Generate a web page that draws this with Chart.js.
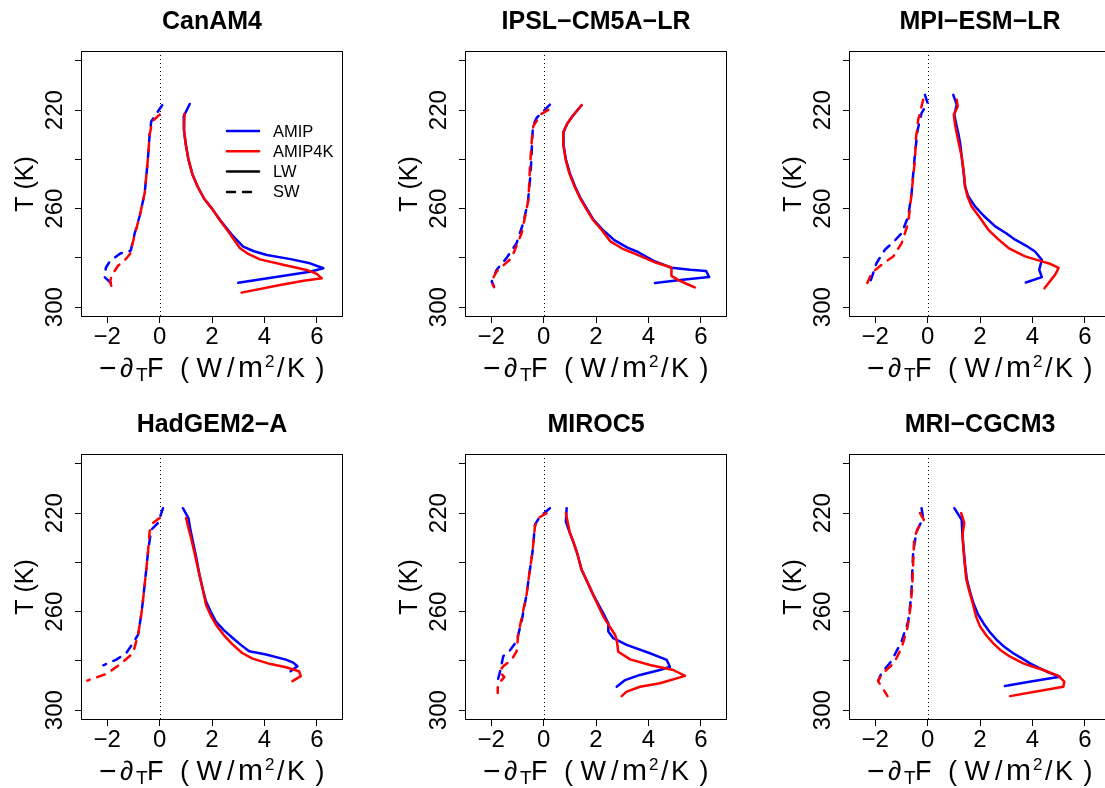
<!DOCTYPE html>
<html><head><meta charset="utf-8">
<script src="https://cdn.jsdelivr.net/npm/chart.js@4/dist/chart.umd.min.js"></script>
<style>
html,body{margin:0;padding:0;background:#fff;overflow:hidden;width:1105px;height:788px;}
#wrap{position:relative;width:1105px;height:788px;overflow:hidden;background:#fff;}
canvas{position:absolute;}
</style></head><body><div id="wrap"></div>
<script>
// ---------- data: [x (W/m2/K), T (K)] ----------
const MODELS = ['CanAM4','IPSL\u2212CM5A\u2212LR','MPI\u2212ESM\u2212LR','HadGEM2\u2212A','MIROC5','MRI\u2212CGCM3'];
const X_TICKS = [-2,0,2,4,6];
const Y_TICKS = [200,220,240,260,280,300];
const Y_LABELED = [220,260,300];
const LEGEND_LABELS = ['AMIP','AMIP4K','LW','SW'];

const CanAM4_LW_AMIP = [[1.15,217.5],[0.92,222.5],[0.93,228],[1.0,234],[1.1,240],[1.25,246],[1.45,251],[1.7,256],[2.0,260],[2.31,264.6],[2.75,270.5],[3.19,275.4],[3.6,277.3],[4.09,278.8],[5.0,280.5],[5.74,282.2],[6.25,284.2],[5.74,285.6],[4.5,287.7],[3.0,290.1]];
const CanAM4_LW_AMIP4K = [[0.95,221.5],[0.93,228],[1.0,234],[1.1,240],[1.25,246],[1.45,251],[1.7,256],[2.0,260],[2.28,264.4],[2.6,269],[3.07,276.1],[3.4,278.5],[3.83,280.6],[4.8,283],[5.61,284.9],[6.0,286.5],[6.19,288.3],[5.5,289.3],[4.6,291],[3.13,294.1]];
const CanAM4_SW_AMIP = [[0.1,218],[-0.32,224.6],[-0.38,230],[-0.44,238.8],[-0.5,246],[-0.57,253.7],[-0.76,263],[-0.95,270],[-1.1,277],[-1.5,278.2],[-1.9,281.4],[-2.05,284],[-2.1,287.8],[-1.85,290.2]];
const CanAM4_SW_AMIP4K = [[0.0,221.8],[-0.28,224.6],[-0.38,230],[-0.44,238.8],[-0.5,246],[-0.57,253.7],[-0.76,263],[-0.94,270.2],[-1.13,278.4],[-1.39,281.7],[-1.58,283.1],[-1.83,287.1],[-1.89,289.8],[-1.77,293.7]];

const IPSL_LW_AMIP = [[1.45,218],[1.1,222.5],[0.9,225.5],[0.76,229],[0.76,234],[0.85,240],[1.0,245.6],[1.2,251],[1.4,255.5],[1.65,260],[1.9,264.5],[2.25,268.5],[2.7,272.8],[3.2,275.8],[3.6,277.6],[4.2,281.2],[4.88,284],[5.6,284.8],[6.2,285.3],[6.32,287.8],[5.3,288.9],[4.25,290.2]];
const IPSL_LW_AMIP4K = [[1.45,218],[1.1,222.5],[0.9,225.5],[0.75,229],[0.75,234],[0.84,240],[0.98,245.6],[1.18,251],[1.38,255.5],[1.62,260],[1.88,264.5],[2.2,268.5],[2.55,273.3],[3.0,276.2],[3.45,278.2],[4.3,282],[4.88,283.9],[4.88,287.3],[5.13,288.9],[5.45,290.5],[5.77,292]];
const IPSL_SW_AMIP = [[0.24,217.8],[-0.27,223.2],[-0.4,226.2],[-0.44,232],[-0.46,238.8],[-0.5,246],[-0.55,252],[-0.6,257.5],[-0.78,265.9],[-1.03,274],[-1.41,280],[-1.79,284.8],[-1.98,289.6],[-1.89,291.6]];
const IPSL_SW_AMIP4K = [[0.18,219.9],[-0.08,221.5],[-0.39,226.4],[-0.45,232],[-0.52,242.9],[-0.55,250],[-0.58,256.4],[-0.7,263],[-0.84,270],[-1.22,280],[-1.79,285.5],[-2.0,289.6],[-1.89,291.9]];

const MPI_LW_AMIP = [[0.98,213.8],[1.11,217.8],[1.02,221.9],[1.1,226],[1.17,229.3],[1.25,234],[1.3,238.8],[1.37,245],[1.43,251],[1.55,255],[1.81,259.1],[2.15,263],[2.58,267.2],[3.0,270],[3.34,272.6],[3.75,275],[4.1,277.4],[4.36,280.8],[4.26,284.8],[4.36,287.8],[3.75,290]];
const MPI_LW_AMIP4K = [[1.11,215.8],[1.15,218.5],[1.0,221.9],[1.05,226],[1.11,229.3],[1.2,234],[1.3,238.8],[1.38,245],[1.43,251],[1.52,255],[1.68,259.1],[1.95,263],[2.32,268.6],[2.7,272.5],[3.09,276],[3.72,279.4],[4.36,281.4],[4.7,282.5],[5.0,284.1],[4.87,286.8],[4.46,292.3]];
const MPI_SW_AMIP = [[-0.1,213.8],[0.0,217.2],[-0.23,221.2],[-0.38,228],[-0.48,237.5],[-0.55,246],[-0.61,253.7],[-0.74,263.2],[-0.99,270],[-1.3,273.5],[-1.63,276.7],[-1.95,282.1],[-2.14,288.2],[-2.21,290.2]];
const MPI_SW_AMIP4K = [[-0.17,215.8],[-0.26,219.9],[-0.36,223.9],[-0.45,232],[-0.48,240.2],[-0.55,247],[-0.61,253.7],[-0.74,265.9],[-0.99,274],[-1.31,279.4],[-1.76,282.8],[-2.14,286.2],[-2.3,290.2]];

const HadGEM_LW_AMIP = [[0.89,218],[1.1,222],[1.18,227],[1.27,231.5],[1.4,238],[1.52,245],[1.65,251],[1.77,255.8],[1.95,260],[2.15,264],[2.45,267.5],[2.79,270.7],[3.1,273.5],[3.42,276.1],[4.06,277.4],[4.82,279.5],[5.1,280.7],[5.26,282.2],[5.0,284.2]];
const HadGEM_LW_AMIP4K = [[1.01,222],[1.1,226],[1.2,230],[1.35,237],[1.52,245],[1.65,251],[1.77,257.2],[1.95,261.5],[2.15,265.3],[2.45,269.5],[2.79,273.4],[3.15,276.8],[3.55,279.1],[4.2,281.2],[4.82,282.6],[5.32,284.2],[5.39,286.2],[5.07,288.2]];
const HadGEM_SW_AMIP = [[0.13,218],[-0.06,224],[-0.32,226.8],[-0.44,235.5],[-0.5,242],[-0.57,249],[-0.64,256],[-0.7,261.2],[-0.82,269.3],[-1.01,272.7],[-1.27,276.8],[-1.65,279.5],[-2.15,281.8]];
const HadGEM_SW_AMIP4K = [[0.0,222],[-0.25,224],[-0.38,227.4],[-0.44,235.5],[-0.5,242],[-0.57,249],[-0.64,256],[-0.7,261.2],[-0.82,269.3],[-1.01,276.8],[-1.52,281.5],[-2.03,285.3],[-2.76,288]];

const MIROC_LW_AMIP = [[0.88,218],[0.85,223.4],[1.0,228],[1.13,231.5],[1.3,237],[1.45,243],[1.65,247.5],[1.89,253.1],[2.28,260.7],[2.47,264.7],[2.47,268.1],[2.66,270.8],[3.17,273.5],[4.06,276.9],[4.7,279.6],[4.82,282.4],[4.44,283.7],[3.68,285.7],[3.11,287.8],[2.79,290.5]];
const MIROC_LW_AMIP4K = [[0.85,220],[1.0,228],[1.13,231.5],[1.3,237],[1.45,243],[1.65,247.5],[1.89,253.1],[2.28,262],[2.73,269.5],[2.79,271.5],[2.85,276.3],[3.3,279.4],[4.06,281.7],[4.95,283.7],[5.4,286.1],[4.44,289.1],[3.68,290.5],[3.17,292.5],[2.98,294.3]];
const MIROC_SW_AMIP = [[0.24,218],[-0.14,221.4],[-0.33,224.7],[-0.42,235.5],[-0.55,245],[-0.65,253.1],[-0.84,263.9],[-1.03,272],[-1.31,276.1],[-1.54,278.1],[-1.66,284.2],[-1.79,289.6]];
const MIROC_SW_AMIP4K = [[0.11,220],[-0.2,222],[-0.33,225.4],[-0.42,235.5],[-0.55,245],[-0.65,253.1],[-0.97,269.3],[-1.03,276.1],[-1.22,279.5],[-1.54,282.2],[-1.69,284.2],[-1.5,286.6],[-1.75,289.6],[-1.75,293]];

const MRI_LW_AMIP = [[1.02,218],[1.3,222.7],[1.33,228.8],[1.38,235],[1.43,241],[1.5,247],[1.62,252],[1.75,256.6],[1.92,261],[2.13,264.7],[2.35,268],[2.64,271.5],[2.95,274.5],[3.27,276.9],[3.6,279],[3.91,281],[4.25,282.8],[4.55,284.4],[5.05,286.4],[4.0,288.3],[2.95,290.2]];
const MRI_LW_AMIP4K = [[1.28,220],[1.4,224],[1.33,228.8],[1.37,235],[1.42,241],[1.48,247],[1.6,252],[1.72,256.6],[1.85,262],[2.0,266],[2.25,269.8],[2.51,272.9],[2.8,275.8],[3.15,278.3],[3.65,281],[4.0,282.3],[4.42,283.7],[4.99,286.1],[5.22,288.4],[5.18,290.5],[4.2,292.3],[3.15,294.3]];
const MRI_SW_AMIP = [[-0.23,218],[-0.17,222],[-0.42,227.4],[-0.55,235.5],[-0.58,243],[-0.61,250.4],[-0.66,257],[-0.74,263.9],[-0.99,272],[-1.38,280.1],[-1.76,284.9],[-1.89,288.2]];
const MRI_SW_AMIP4K = [[-0.29,220],[-0.14,222.7],[-0.36,226],[-0.51,230],[-0.55,240],[-0.59,250.4],[-0.65,258],[-0.77,266.6],[-0.99,274.7],[-1.28,280.8],[-1.76,285.5],[-1.89,288.2],[-1.53,294.3]];

const PANELS = [
  {title:MODELS[0], lwA:CanAM4_LW_AMIP, lwK:CanAM4_LW_AMIP4K, swA:CanAM4_SW_AMIP, swK:CanAM4_SW_AMIP4K, legend:true},
  {title:MODELS[1], lwA:IPSL_LW_AMIP, lwK:IPSL_LW_AMIP4K, swA:IPSL_SW_AMIP, swK:IPSL_SW_AMIP4K},
  {title:MODELS[2], lwA:MPI_LW_AMIP, lwK:MPI_LW_AMIP4K, swA:MPI_SW_AMIP, swK:MPI_SW_AMIP4K},
  {title:MODELS[3], lwA:HadGEM_LW_AMIP, lwK:HadGEM_LW_AMIP4K, swA:HadGEM_SW_AMIP, swK:HadGEM_SW_AMIP4K},
  {title:MODELS[4], lwA:MIROC_LW_AMIP, lwK:MIROC_LW_AMIP4K, swA:MIROC_SW_AMIP, swK:MIROC_SW_AMIP4K},
  {title:MODELS[5], lwA:MRI_LW_AMIP, lwK:MRI_LW_AMIP4K, swA:MRI_SW_AMIP, swK:MRI_SW_AMIP4K}
];

// ---------- style ----------
const FONT = '"Liberation Sans", Arial, Helvetica, sans-serif';
const BLUE = '#0000FF', RED = '#FF0000';
const CELL_W = 384, CELL_H = 403;
const DASH = [8,8];
Chart.defaults.font.family = FONT;
Chart.defaults.color = '#000';

function ds(arr, color, dashed){
  return {data: arr.map(p => ({x:p[0], y:p[1]})), borderColor: color, backgroundColor: color,
    borderWidth: 2.5, borderDash: dashed ? DASH : [], borderCapStyle: 'round', borderJoinStyle: 'round',
    pointRadius: 0, pointHoverRadius: 0, showLine: true, tension: 0, fill: false};
}

// x-axis title pieces: text, font, vertical offset, ink-centre x relative to panel centre
function drawXTitle(ctx, cx, baseY){
  const main = '27px ' + FONT, wide = '30px ' + FONT, sub = '19px ' + FONT, sup = '17px ' + FONT;
  const pieces = [
    ['\u2212', wide, 1, -104], ['\u2202', main, 0, -85.5], ['T', sub, 4, -70], ['F', main, 0, -56],
    ['(', main, 0, -27], ['W', main, 0, -2.5], ['/', main, 0, 19], ['m', wide, 0, 39],
    ['2', sup, -10, 57.5], ['/', main, 0, 69], ['K', main, 0, 85], [')', main, 0, 107.5]
  ];
  ctx.textAlign = 'left'; ctx.textBaseline = 'alphabetic'; ctx.fillStyle = '#000';
  pieces.forEach(p => {
    ctx.font = p[1];
    const m = ctx.measureText(p[0]);
    const abl = isFinite(m.actualBoundingBoxLeft) ? m.actualBoundingBoxLeft : 0;
    const abr = isFinite(m.actualBoundingBoxRight) ? m.actualBoundingBoxRight : m.width;
    const inkW = abl + abr;
    ctx.fillText(p[0], cx + p[3] - inkW/2 + abl, baseY + p[2]);
  });
}

const decor = {
  id: 'decor',
  beforeDatasetsDraw(chart){
    const ctx = chart.ctx, a = chart.chartArea, xs = chart.scales.x;
    const x0 = Math.round(xs.getPixelForValue(0)) + 0.5;
    ctx.save();
    ctx.strokeStyle = '#000'; ctx.lineWidth = 1; ctx.setLineDash([1,3]);
    ctx.beginPath(); ctx.moveTo(x0, a.top); ctx.lineTo(x0, a.bottom); ctx.stroke();
    ctx.restore();
  },
  afterDraw(chart){
    const ctx = chart.ctx, a = chart.chartArea, ys = chart.scales.y;
    const opts = chart.options.plugins.decor;
    const cx = (a.left + a.right)/2;
    ctx.save();
    ctx.strokeStyle = '#000'; ctx.lineWidth = 1; ctx.setLineDash([]);
    ctx.strokeRect(a.left + 0.5, a.top + 0.5, a.right - a.left - 1, a.bottom - a.top - 1);
    ctx.fillStyle = '#000'; ctx.font = '24px ' + FONT; ctx.textAlign = 'center'; ctx.textBaseline = 'middle';
    Y_LABELED.forEach(v => {
      const py = ys.getPixelForValue(v);
      ctx.save(); ctx.translate(a.left - 27, py); ctx.rotate(-Math.PI/2); ctx.fillText(String(v), 0, 1); ctx.restore();
    });
    ctx.font = '25px ' + FONT;
    ctx.save(); ctx.translate(25, (a.top + a.bottom)/2); ctx.rotate(-Math.PI/2); ctx.fillText('T (K)', 0, 1); ctx.restore();
    ctx.font = 'bold 25px ' + FONT; ctx.textBaseline = 'middle';
    ctx.fillText(opts.title, cx, 22);
    drawXTitle(ctx, cx, a.bottom + 60);
    if (opts.legend){
      const rows = [[BLUE, []], [RED, []], ['#000', []], ['#000', DASH]];
      const x1 = 227, x2 = 259, tx = 273, y0 = 131, dy = 20.3;
      ctx.font = '16.5px ' + FONT; ctx.textAlign = 'left'; ctx.textBaseline = 'middle';
      rows.forEach((r, i) => {
        const y = y0 + i*dy;
        ctx.strokeStyle = r[0]; ctx.lineWidth = 2.5; ctx.lineCap = 'round'; ctx.setLineDash(r[1]);
        ctx.beginPath(); ctx.moveTo(x1, y); ctx.lineTo(x2, y); ctx.stroke();
        ctx.fillStyle = '#000'; ctx.fillText(LEGEND_LABELS[i], tx, y + 1);
      });
    }
    ctx.restore();
  }
};

const wrap = document.getElementById('wrap');
PANELS.forEach((p, i) => {
  const col = i % 3, row = Math.floor(i / 3);
  const cv = document.createElement('canvas');
  cv.width = CELL_W; cv.height = CELL_H;
  cv.style.width = CELL_W + 'px'; cv.style.height = CELL_H + 'px';
  cv.style.left = (col * CELL_W) + 'px'; cv.style.top = (row * CELL_H) + 'px';
  wrap.appendChild(cv);
  new Chart(cv, {
    type: 'scatter',
    data: { datasets: [ ds(p.lwK, RED, false), ds(p.swK, RED, true), ds(p.lwA, BLUE, false), ds(p.swA, BLUE, true) ] },
    options: {
      responsive: false, animation: false, devicePixelRatio: 1,
      layout: { padding: { top: 51, left: 0, right: 41, bottom: 0 } },
      plugins: { legend: {display:false}, tooltip: {enabled:false}, title: {display:false},
        decor: { title: p.title, legend: !!p.legend } },
      scales: {
        x: { type: 'linear', min: -3, max: 7,
          afterBuildTicks: s => { s.ticks = X_TICKS.map(v => ({value: v})); },
          afterFit: s => { s.height = 86; },
          ticks: { font: {size: 24, family: FONT}, color: '#000', padding: 0, maxRotation: 0, autoSkip: false,
            callback: v => String(v).replace('-', '\u2212') },
          grid: { drawOnChartArea: false, drawTicks: true, tickLength: 6, color: '#000', lineWidth: 1 },
          border: { display: false } },
        y: { type: 'linear', min: 196, max: 304, reverse: true,
          afterBuildTicks: s => { s.ticks = Y_TICKS.map(v => ({value: v})); },
          afterFit: s => { s.width = 81; },
          ticks: { callback: () => '', font: {size: 24} },
          grid: { drawOnChartArea: false, drawTicks: true, tickLength: 6, color: '#000', lineWidth: 1 },
          border: { display: false } }
      }
    },
    plugins: [decor]
  });
});
</script></body></html>
